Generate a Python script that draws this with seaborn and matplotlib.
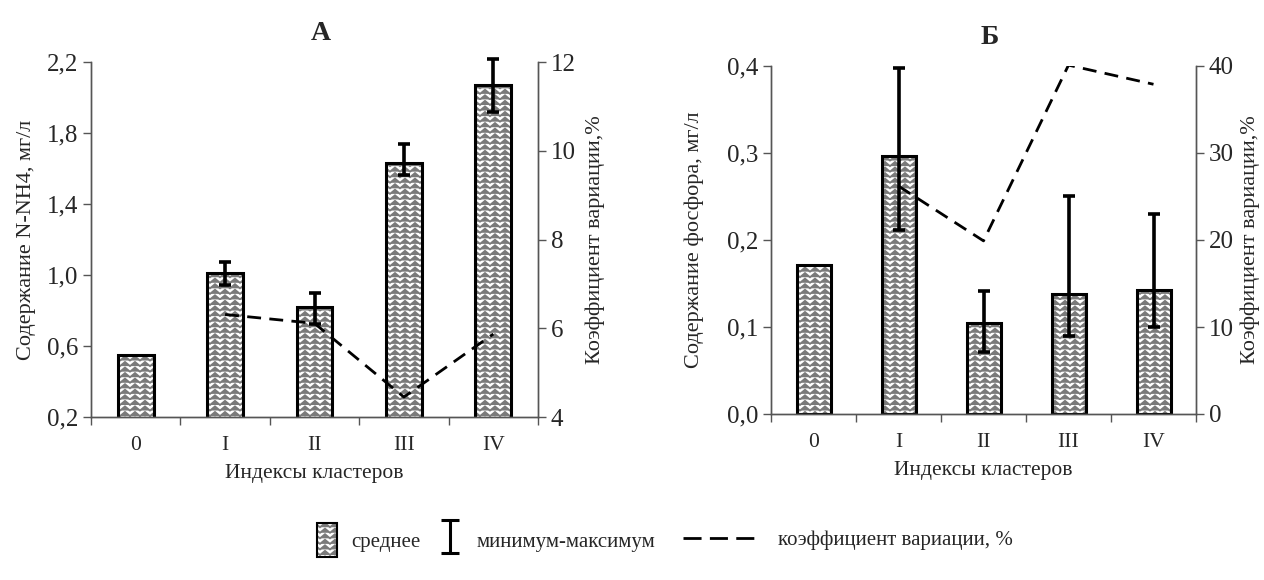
import numpy as np
import pandas as pd
import matplotlib
matplotlib.use("Agg")
import matplotlib.pyplot as plt
import matplotlib.hatch as mhatch
import matplotlib.colors as mcolors
from matplotlib.path import Path
import seaborn as sns
from matplotlib.patches import Rectangle
from matplotlib.legend_handler import HandlerErrorbar
from matplotlib.container import ErrorbarContainer
from matplotlib.lines import Line2D
from matplotlib.ticker import FuncFormatter

# ---- data ----
categories = ["0", "I", "II", "III", "IV"]
cv_categories = ["I", "II", "III", "IV"]

nh4_mean = [0.55, 1.01, 0.82, 1.63, 2.07]
nh4_min = [np.nan, 0.944, 0.724, 1.563, 1.918]
nh4_max = [np.nan, 1.073, 0.899, 1.738, 2.215]
nh4_cv = [6.31, 6.11, 4.45, 5.87]

p_mean = [0.171, 0.296, 0.105, 0.138, 0.143]
p_min = [np.nan, 0.211, 0.0715, 0.090, 0.100]
p_max = [np.nan, 0.398, 0.141, 0.251, 0.230]
p_cv = [26.2, 19.9, 40.1, 37.9]

titles = ["А", "Б"]
ylabels = ["Содержание N-NH4, мг/л", "Содержание фосфора, мг/л"]
xlabel = "Индексы кластеров"
cv_label = "Коэффициент вариации,%"
legend_labels = ["среднее", "минимум-максимум", "коэффициент вариации, %"]

left_ticks = [[0.2, 0.6, 1.0, 1.4, 1.8, 2.2], [0.0, 0.1, 0.2, 0.3, 0.4]]
right_ticks = [[4, 6, 8, 10, 12], [0, 10, 20, 30, 40]]


# ---- zig-zag (weave-like) hatch, bound to the '*' character ----
class ZigZagHatch(mhatch.HatchPatternBase):
    def __init__(self, hatch, density):
        self.num_rows = int(hatch.count("*") * density)
        self.num_teeth = 10
        self.per_row = 2 * self.num_teeth + 1
        self.num_vertices = self.num_rows * self.per_row

    def set_vertices_and_codes(self, vertices, codes):
        step = 1.0 / self.num_rows
        amp = 0.75 * step
        xs = np.linspace(0.0, 1.0, self.per_row)
        for i in range(self.num_rows):
            y0 = i * step + 0.1 * step
            ys = np.where(np.arange(self.per_row) % 2 == 0, y0, y0 + amp)
            sl = slice(i * self.per_row, (i + 1) * self.per_row)
            vertices[sl, 0] = xs
            vertices[sl, 1] = ys
            codes[sl] = Path.LINETO
            codes[i * self.per_row] = Path.MOVETO


mhatch._hatch_types = [t for t in mhatch._hatch_types
                       if t.__name__ != "Stars"] + [ZigZagHatch]
HATCH = "***"
HATCH_COL = "#7a7a7a"

# ---- style ----
sns.set_theme(style="white")
plt.rcParams["font.family"] = ["Liberation Serif", "DejaVu Serif"]
plt.rcParams["hatch.color"] = HATCH_COL
plt.rcParams["hatch.linewidth"] = 1.3
FS = 15.5
YFS = 18
spine_col = "#555555"
DASH = (0, (5, 3))

fig = plt.figure(figsize=(12.64, 5.8), dpi=100)
ax_l = fig.add_axes([91 / 1264, (580 - 417) / 580, 447 / 1264, 355 / 580])
ax_r = fig.add_axes([771 / 1264, (580 - 414) / 580, 425 / 1264, 348 / 580])


def comma_fmt(dec):
    return FuncFormatter(lambda v, p: (f"{v:.{dec}f}").replace(".", ","))


def set_hatch(p):
    p.set_hatch(HATCH)
    if hasattr(p, "set_hatchcolor"):
        p.set_hatchcolor(HATCH_COL)
    else:
        p._hatch_color = mcolors.to_rgba(HATCH_COL)
    p.stale = True


def draw_panel(ax, means, mins, maxs, cv, title, ylabel, lticks, rticks,
               lpad, rpad):
    df = pd.DataFrame({"cat": categories, "val": means})
    sns.barplot(data=df, x="cat", y="val", ax=ax, color="white",
                edgecolor="black", linewidth=2.2, width=0.4, saturation=1)
    for p in ax.patches:
        set_hatch(p)
    pos = np.arange(len(categories))
    m = np.array(means)
    lo = m - np.array(mins)
    hi = np.array(maxs) - m
    ax.errorbar(pos, m, yerr=[lo, hi], fmt="none", ecolor="black",
                elinewidth=2.6, capsize=4.5, capthick=2.6, zorder=5,
                clip_on=False)
    ax.set_ylim(lticks[0], lticks[-1])
    ax.set_yticks(lticks)
    ax.yaxis.set_major_formatter(comma_fmt(1))
    ax.set_xlim(-0.5, len(categories) - 0.5)
    ax.set_xticks(np.arange(-0.5, len(categories)))
    ax.set_xticklabels([])
    ax.set_xticks(pos, minor=True)
    ax.set_xticklabels(categories, minor=True)
    ax.tick_params(axis="x", which="major", length=6, width=1, color=spine_col,
                   direction="out", bottom=True)
    ax.tick_params(axis="x", which="minor", length=0, pad=14, labelsize=FS)
    ax.tick_params(axis="y", length=6, width=1, color=spine_col, direction="out",
                   left=True, labelsize=YFS, pad=3)
    ax.set_xlabel(xlabel, fontsize=FS, labelpad=6)
    ax.set_ylabel(ylabel, fontsize=FS + 0.5, labelpad=lpad)
    ax.set_title(title, fontsize=20, fontweight="bold", pad=16, x=0.515)
    ax.spines["top"].set_visible(False)
    for s in ["left", "bottom", "right"]:
        ax.spines[s].set_color(spine_col)
        ax.spines[s].set_linewidth(1)

    ax2 = ax.twinx()
    cdf = pd.DataFrame({"x": pos[1:], "cv": cv})
    sns.lineplot(data=cdf, x="x", y="cv", ax=ax2, color="black",
                 linewidth=2, linestyle=DASH)
    ax2.set_ylim(rticks[0], rticks[-1])
    ax2.set_yticks(rticks)
    ax2.set_xlim(-0.5, len(categories) - 0.5)
    ax2.tick_params(axis="y", length=6, width=1, color=spine_col, direction="out",
                    right=True, labelsize=YFS, pad=3)
    ax2.set_ylabel(cv_label, fontsize=FS + 0.5, labelpad=rpad)
    ax2.spines["top"].set_visible(False)
    for s in ["left", "bottom", "right"]:
        ax2.spines[s].set_color(spine_col)
        ax2.spines[s].set_linewidth(1)
    return ax2


draw_panel(ax_l, nh4_mean, nh4_min, nh4_max, nh4_cv, titles[0], ylabels[0],
           left_ticks[0], right_ticks[0], 8, 7)
draw_panel(ax_r, p_mean, p_min, p_max, p_cv, titles[1], ylabels[1],
           left_ticks[1], right_ticks[1], 17, 5)

# ---- legend (three separate entries) ----
LFS = 15
bar_handle = Rectangle((0, 0), 1, 1, facecolor="white", edgecolor="black",
                       linewidth=1.5)
set_hatch(bar_handle)
err_handle = ax_l.errorbar([np.nan], [np.nan], yerr=[[np.nan], [np.nan]],
                           fmt="none", ecolor="black", elinewidth=2.2,
                           capsize=6.5, capthick=2.2)
line_handle = Line2D([], [], color="black", linewidth=2, linestyle=(0, (6.5, 3)))

leg_y = 40 / 580
common = dict(loc="center left", frameon=False, fontsize=LFS, borderpad=0,
              borderaxespad=0)
lg1 = fig.legend([bar_handle], [legend_labels[0]], bbox_to_anchor=(317 / 1264, leg_y),
                 handlelength=0.96, handleheight=2.15, handletextpad=0.7, **common)
for h in lg1.legend_handles:
    set_hatch(h)
fig.legend([err_handle], [legend_labels[1]], bbox_to_anchor=(441 / 1264, leg_y),
           handlelength=0.9, handleheight=1.6, handletextpad=0.8,
           handler_map={ErrorbarContainer: HandlerErrorbar(yerr_size=0.8)},
           **common)
fig.legend([line_handle], [legend_labels[2]], bbox_to_anchor=(683 / 1264, leg_y),
           handlelength=3.7, handletextpad=0.85, **common)

fig.savefig("out.png", dpi=100)
